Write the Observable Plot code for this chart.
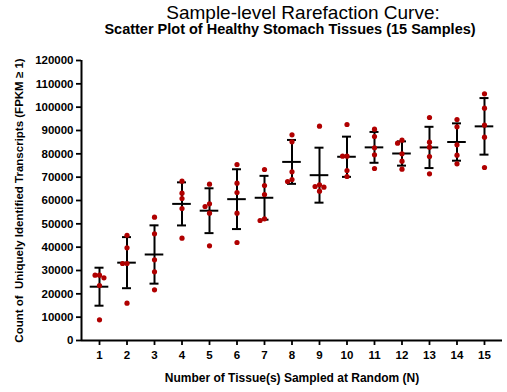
<!DOCTYPE html>
<html>
<head>
<meta charset="utf-8">
<script src="https://cdn.jsdelivr.net/npm/d3@7"></script>
<script src="https://cdn.jsdelivr.net/npm/@observablehq/plot@0.6"></script>
<style>
  html, body { margin: 0; padding: 0; background: #fff; }
</style>
</head>
<body>
<div id="chart"></div>
<script>
// ---- data ----
const titleText = "Sample-level Rarefaction Curve:";
const subtitleText = "Scatter Plot of Healthy Stomach Tissues (15 Samples)";
const xLabel = "Number of Tissue(s) Sampled at Random (N)";
const yLabel = "Count of  Uniquely Identified Transcripts (FPKM \u2265 1)";
const tissuesSampled = [1, 2, 3, 4, 5, 6, 7, 8, 9, 10, 11, 12, 13, 14, 15];
const transcriptCounts = [
  [28000, 26860, 28000, 23570, 8860],
  [45100, 39700, 33000, 33000, 16000],
  [52860, 45720, 34570, 29430, 21710],
  [68290, 63150, 60860, 56570, 43860],
  [67000, 58570, 57430, 54570, 40570],
  [75430, 67430, 63430, 54570, 42000],
  [73290, 66430, 62570, 51430, 52140],
  [88140, 85140, 72290, 69000, 68140],
  [91860, 66710, 66000, 65710, 64000],
  [92570, 79000, 79000, 72860, 70290],
  [90570, 87430, 82570, 79570, 73720],
  [85860, 84570, 80000, 76860, 73430],
  [95570, 85000, 82860, 78860, 71430],
  [94720, 91570, 83860, 79430, 75720],
  [105720, 99580, 92290, 87150, 74150]
];
const yTicks = d3.range(0, 120001, 10000);

// ---- layout ----
const W = 507, H = 392;
const mL = 81, mR = 5, mT = 60, mB = 52;
const xDomain = [0.345, 15.655];
const yDomain = [0, 120000];
const dotR = 2.6;
const pxPerX = (W - mL - mR) / (xDomain[1] - xDomain[0]);
const pxPerY = (H - mT - mB) / (yDomain[1] - yDomain[0]);

// points with a simple dodge so overlapping dots spread sideways
const points = [];
tissuesSampled.forEach((n, i) => {
  const vals = transcriptCounts[i].slice().sort((a, b) => b - a);
  const placed = [];
  const d = dotR * 2;
  vals.forEach(v => {
    const py = v * pxPerY;
    let off = 0;
    for (let k = 0; k < 20; k++) {
      const cand = (k % 2 === 0 ? 1 : -1) * Math.ceil(k / 2) * d * 0.85;
      const hit = placed.some(p => (p.px - cand) ** 2 + (p.py - py) ** 2 < (d * 0.85) ** 2);
      if (!hit) { off = cand; break; }
    }
    placed.push({px: off, py});
    points.push({n, value: v, xj: n + off / pxPerX});
  });
});

const summary = tissuesSampled.map((n, i) => {
  const m = d3.mean(transcriptCounts[i]);
  const s = d3.deviation(transcriptCounts[i]);
  return {n, mean: m, lo: m - s, hi: m + s};
});

const meanHalf = 9.3 / pxPerX;
const capHalf = 4.5 / pxPerX;
const font = "'Liberation Sans', Arial, sans-serif";

const chart = Plot.plot({
  width: W,
  height: H,
  marginLeft: mL,
  marginRight: mR,
  marginTop: mT,
  marginBottom: mB,
  style: {fontFamily: font, background: "#fff", color: "#000"},
  x: {domain: xDomain, axis: null},
  y: {domain: yDomain, axis: null},
  marks: [
    Plot.axisY({ticks: yTicks, tickSize: 5, tickPadding: 3, tickFormat: d3.format("d"),
      fontSize: 11.5, fontWeight: "bold", strokeWidth: 1.8, stroke: "#000", fill: "#000", label: null}),
    Plot.axisX({ticks: tissuesSampled, tickSize: 5, tickPadding: 5, tickFormat: d3.format("d"),
      fontSize: 11.5, fontWeight: "bold", strokeWidth: 1.8, stroke: "#000", fill: "#000", label: null}),
    Plot.ruleX([xDomain[0]], {y1: yDomain[0], y2: yDomain[1], stroke: "#000", strokeWidth: 2}),
    Plot.ruleY([0], {x1: xDomain[0], x2: xDomain[1], stroke: "#000", strokeWidth: 2}),
    // error bars (mean ± SD)
    Plot.ruleX(summary, {x: "n", y1: "lo", y2: "hi", stroke: "#000", strokeWidth: 2}),
    Plot.ruleY(summary, {y: "hi", x1: d => d.n - capHalf, x2: d => d.n + capHalf, stroke: "#000", strokeWidth: 2}),
    Plot.ruleY(summary, {y: "lo", x1: d => d.n - capHalf, x2: d => d.n + capHalf, stroke: "#000", strokeWidth: 2}),
    Plot.ruleY(summary, {y: "mean", x1: d => d.n - meanHalf, x2: d => d.n + meanHalf, stroke: "#000", strokeWidth: 2}),
    // dots
    Plot.dot(points, {x: "xj", y: "value", r: dotR, fill: "#b00000", stroke: "none"}),
    // titles
    Plot.text([titleText], {frameAnchor: "top", textAnchor: "middle", dx: 11, dy: -48, lineAnchor: "middle",
      fontSize: 19, fill: "#000"}),
    Plot.text([subtitleText], {frameAnchor: "top", textAnchor: "middle", dx: -2, dy: -31, lineAnchor: "middle",
      fontSize: 14.5, fontWeight: "bold", fill: "#000"}),
    Plot.text([xLabel], {frameAnchor: "bottom", textAnchor: "middle", dy: 38, lineAnchor: "middle",
      fontSize: 12, fontWeight: "bold", fill: "#000"}),
    Plot.text([yLabel], {frameAnchor: "left", textAnchor: "middle", dx: -62, rotate: -90, lineAnchor: "middle",
      fontSize: 11.5, fontWeight: "bold", fill: "#000"})
  ]
});
document.getElementById("chart").appendChild(chart);
</script>
</body>
</html>
